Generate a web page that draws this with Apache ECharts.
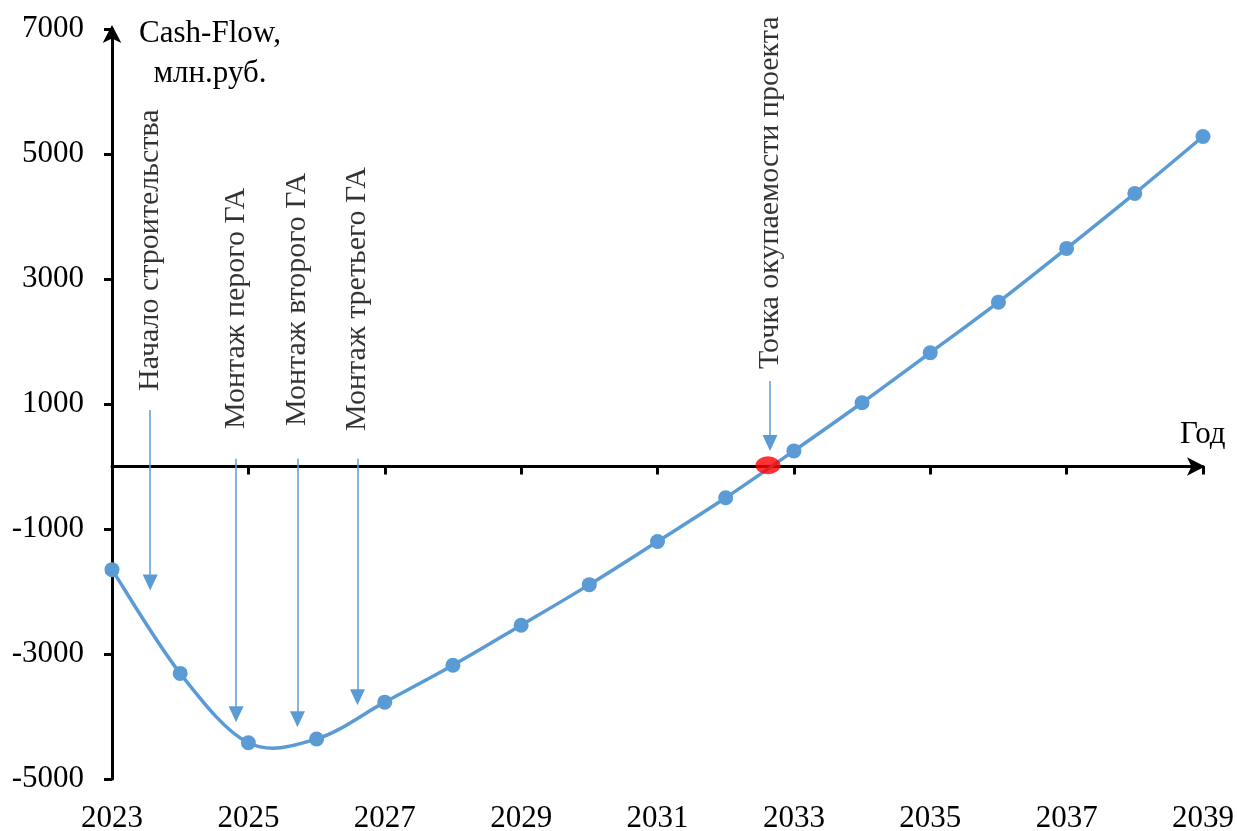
<!DOCTYPE html>
<html>
<head>
<meta charset="utf-8">
<script src="https://cdn.jsdelivr.net/npm/echarts@6/dist/echarts.min.js"></script>
<style>html,body{margin:0;padding:0;background:#fff}#c{width:1237px;height:831px}</style>
</head>
<body>
<div id="c"></div>
<script>
// ---- data ----
const years = [2023, 2024, 2025, 2026, 2027, 2028, 2029, 2030, 2031, 2032, 2033, 2034, 2035, 2036, 2037, 2038, 2039];
const cashFlow = [-1650, -3310, -4420, -4360, -3770, -3180, -2540, -1890, -1200, -500, 250, 1020, 1820, 2630, 3490, 4370, 5280];
const paybackPoint = [2032.62, 20];
const annotationTexts = ['Начало строительства', 'Монтаж перого ГА', 'Монтаж второго ГА', 'Монтаж третьего ГА', 'Точка окупаемости проекта'];
const annotationX = [2023.56, 2024.82, 2025.72, 2026.6, 2032.65];
const annotationTextBase = [1210, 600, 650, 570, 1560];
const arrowTop = [905, 123, 123, 123, 1367];
const arrowEnd = [-1856, -3962, -4042, -3691, 378];
const yTitle = 'Cash-Flow,\nмлн.руб.';
const xTitle = 'Год';

const FONT = 'Liberation Serif';
const BLUE = '#5B9BD5';
const FS = 31;
const FS_NOTE = 30;

const chart = echarts.init(document.getElementById('c'), null, {renderer: 'canvas'});

const arrowLines = annotationX.map((x, i) => [
  {coord: [x, arrowTop[i]]},
  {coord: [x, arrowEnd[i]]}
]);

const textPoints = annotationX.map((x, i) => ({
  value: [x, annotationTextBase[i]],
  label: {formatter: annotationTexts[i]}
}));

const pointData = years.map((y, i) => [y, cashFlow[i]]);

// smooth (Catmull-Rom style) curve through the data points, placed by the axes
function renderCurve(params, api) {
  if (params.dataIndex !== 0) return null;
  const p = pointData.map(d => api.coord(d));
  const n = p.length;
  let d = 'M' + p[0][0] + ' ' + p[0][1];
  for (let i = 0; i < n - 1; i++) {
    const p0 = p[Math.max(i - 1, 0)], p1 = p[i], p2 = p[i + 1], p3 = p[Math.min(i + 2, n - 1)];
    const c1x = p1[0] + (p2[0] - p0[0]) / 6, c1y = p1[1] + (p2[1] - p0[1]) / 6;
    const c2x = p2[0] - (p3[0] - p1[0]) / 6, c2y = p2[1] - (p3[1] - p1[1]) / 6;
    d += ' C' + c1x + ' ' + c1y + ' ' + c2x + ' ' + c2y + ' ' + p2[0] + ' ' + p2[1];
  }
  return {type: 'path', shape: {pathData: d}, style: {stroke: BLUE, lineWidth: 3.5, fill: 'none'}};
}

chart.setOption({
  animation: false,
  grid: {left: 112, right: 34, top: 29, bottom: 52, containLabel: false, outerBoundsMode: 'none'},
  xAxis: [
    {
      type: 'value', min: 2023, max: 2039, interval: 2, position: 'bottom',
      axisLine: {show: false, onZero: false},
      axisTick: {show: false},
      splitLine: {show: false},
      axisLabel: {fontFamily: FONT, fontSize: FS, color: '#000', margin: 24, formatter: v => String(v)}
    },
    {
      type: 'value', min: 2023, max: 2039, interval: 2, position: 'top',
      axisLine: {show: true, onZero: true, onZeroAxisIndex: 0,
        lineStyle: {color: '#000', width: 3},
        symbol: ['none', 'arrow'], symbolSize: [14, 18], symbolOffset: [0, 2]},
      axisTick: {show: true, inside: true, length: 8, lineStyle: {color: '#000', width: 3}},
      axisLabel: {show: false},
      splitLine: {show: false}
    }
  ],
  yAxis: {
    type: 'value', min: -5000, max: 7000, interval: 2000,
    axisLine: {show: true, onZero: false, lineStyle: {color: '#000', width: 3},
      symbol: ['none', 'arrow'], symbolSize: [14, 18], symbolOffset: [0, 4]},
    axisTick: {show: true, length: 8, lineStyle: {color: '#000', width: 3}},
    splitLine: {show: false},
    axisLabel: {fontFamily: FONT, fontSize: FS, color: '#000', margin: 28, formatter: v => String(v)}
  },
  graphic: [
    {type: 'text', x: 210, y: 14, style: {text: yTitle, font: FS + 'px "Liberation Serif"', fill: '#000', align: 'center', verticalAlign: 'top', lineHeight: 40}},
    {type: 'text', x: 1180, y: 419, style: {text: xTitle, font: FS + 'px "Liberation Serif"', fill: '#000', verticalAlign: 'top'}}
  ],
  series: [
    {
      type: 'custom', xAxisIndex: 0, yAxisIndex: 0,
      data: pointData,
      encode: {x: 0, y: 1},
      renderItem: renderCurve,
      silent: true,
      z: 2
    },
    {
      type: 'line', xAxisIndex: 0, yAxisIndex: 0,
      data: pointData,
      symbol: 'circle', symbolSize: 15,
      lineStyle: {width: 0, opacity: 0},
      itemStyle: {color: BLUE},
      z: 3,
      markLine: {
        silent: true,
        symbol: ['none', 'triangle'],
        symbolSize: [15, 16],
        label: {show: false},
        lineStyle: {color: BLUE, width: 1.5, type: 'solid'},
        data: arrowLines
      }
    },
    {
      type: 'scatter', xAxisIndex: 0, yAxisIndex: 0,
      data: [paybackPoint],
      symbol: 'circle', symbolSize: [25, 18],
      itemStyle: {color: '#FF0000'},
      z: 5
    },
    {
      type: 'scatter', xAxisIndex: 0, yAxisIndex: 0,
      data: textPoints,
      symbolSize: 0,
      silent: true,
      label: {
        show: true, position: 'inside', rotate: 90,
        align: 'left', verticalAlign: 'middle',
        fontFamily: FONT, fontSize: FS_NOTE, color: '#000'
      }
    }
  ]
});
</script>
</body>
</html>
